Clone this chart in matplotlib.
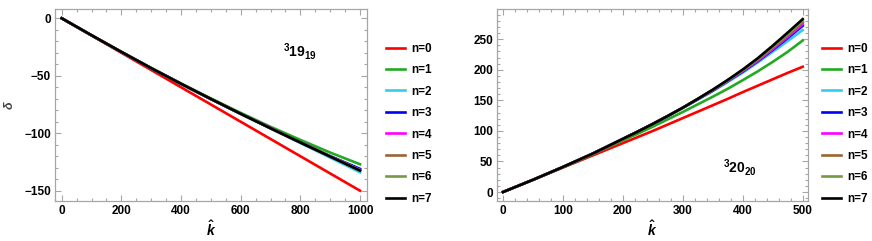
import matplotlib
matplotlib.use("Agg")
import matplotlib.pyplot as plt
from matplotlib.ticker import MultipleLocator

plt.rcParams['font.family'] = ['Liberation Sans', 'DejaVu Sans']
plt.rcParams['font.weight'] = 'bold'
plt.rcParams['mathtext.fontset'] = 'custom'
plt.rcParams['mathtext.rm'] = 'Liberation Sans:bold'
plt.rcParams['mathtext.bf'] = 'Liberation Sans:bold'
plt.rcParams['mathtext.it'] = 'Liberation Sans:bold:italic'

labels = ['n=0', 'n=1', 'n=2', 'n=3', 'n=4', 'n=5', 'n=6', 'n=7']
colors = ['#ff0000', '#22aa22', '#33ccee', '#0000ff', '#ff00ff', '#996633', '#779944', '#000000']

# left panel: 3 19_19
k_left = [0, 100, 200, 300, 400, 500, 600, 700, 800, 900, 1000]
delta_left = [
    [0, -15, -30, -45, -60, -75, -90, -105, -120, -135, -150],
    [0, -14.8, -29.2, -43.2, -56.7, -69.7, -82.3, -94.4, -105.8, -116.8, -127],
    [0, -14.8, -29.3, -43.4, -57.0, -70.3, -83.2, -95.9, -108.5, -121.2, -134],
    [0, -14.8, -29.3, -43.4, -57.0, -70.2, -83.0, -95.5, -107.8, -119.9, -131],
    [0, -14.8, -29.3, -43.4, -57.0, -70.2, -83.1, -95.6, -108.0, -120.1, -132],
    [0, -14.8, -29.3, -43.4, -57.0, -70.2, -83.1, -95.6, -108.0, -120.2, -132.2],
    [0, -14.8, -29.3, -43.4, -57.0, -70.2, -83.1, -95.7, -108.1, -120.2, -132.3],
    [0, -14.8, -29.3, -43.4, -57.0, -70.2, -83.1, -95.7, -108.1, -120.3, -132.5],
]

# right panel: 3 20_20
k_right = [0, 25, 50, 75, 100, 125, 150, 175, 200, 225, 250,
           275, 300, 325, 350, 375, 400, 425, 450, 475, 500]
delta_right = [
    [0, 10, 20, 30, 40, 50, 60, 70, 80, 90, 100,
     110.5, 121, 131.5, 142, 152.5, 163.5, 174, 184.5, 195, 205],
    [0, 10, 20, 30.2, 40.5, 51, 62, 73, 84.5, 95.5, 107,
     119, 131, 143.5, 156, 169, 183, 197.5, 213, 229.5, 248],
    [0, 10, 20, 30.5, 41, 52, 63, 75, 87, 99, 111.5,
     124.3, 137.5, 151, 165, 180, 195.5, 212, 229.5, 247, 265],
    [0, 10, 20, 30.5, 41, 52, 63, 75, 87, 99, 111.5,
     124.5, 138, 152, 166, 181.5, 197, 214, 232.5, 252, 272],
    [0, 10, 20, 30.5, 41, 52, 63, 75, 87, 99, 111.5,
     124.5, 138, 152, 166.5, 182, 198, 215, 234, 254, 275],
    [0, 10, 20, 30.5, 41, 52, 63, 75, 87, 99, 111.5,
     124.5, 138, 152.3, 167, 182.5, 199, 216.5, 236, 256.5, 278],
    [0, 10, 20, 30.5, 41, 52, 63, 75, 87, 99, 111.5,
     124.5, 138, 152.5, 167.3, 183, 199.5, 217.5, 237.5, 258.5, 280],
    [0, 10, 20, 30.5, 41, 52, 63, 75, 87, 99, 111.5,
     124.5, 138, 152.5, 167.5, 183.5, 200.5, 219, 239.5, 261, 283],
]

fig = plt.figure(figsize=(8.72, 2.41), dpi=100)
ax1 = fig.add_axes([0.0634, 0.1672, 0.3575, 0.7942])
ax2 = fig.add_axes([0.5703, 0.1672, 0.3563, 0.7942])

frame_col = '#a6a6a6'


def style(ax, xmaj, xmin, ymaj, ymin):
    for s in ax.spines.values():
        s.set_color(frame_col)
        s.set_linewidth(0.9)
    ax.xaxis.set_major_locator(MultipleLocator(xmaj))
    ax.xaxis.set_minor_locator(MultipleLocator(xmin))
    ax.yaxis.set_major_locator(MultipleLocator(ymaj))
    ax.yaxis.set_minor_locator(MultipleLocator(ymin))
    ax.tick_params(which='both', direction='in', top=True, right=True,
                   color=frame_col, labelsize=8.5, width=0.8, pad=3)
    ax.tick_params(which='major', length=4)
    ax.tick_params(which='minor', length=2)
    for t in ax.get_xticklabels() + ax.get_yticklabels():
        t.set_fontweight('bold')


def add_legend(ax, x0):
    ax.legend(loc='upper left', bbox_to_anchor=(x0, 0.85), frameon=False,
              fontsize=8.5, handlelength=1.6, handletextpad=0.6, labelspacing=0.8,
              borderaxespad=0)


for vals, c, lab in zip(delta_left, colors, labels):
    ax1.plot(k_left, vals, color=c, lw=1.9, label=lab)
ax1.set_xlim(-21.5, 1023.5)
ax1.set_ylim(-158.7, 7.8)
style(ax1, 200, 50, 50, 10)
ax1.set_xlabel(r'$\hat{k}$', fontsize=10, labelpad=2)
ax1.set_ylabel(r'$\delta$', fontsize=9, color='#444444', labelpad=6)
ax1.text(800, -29, r'$^{3}\mathbf{19}_{19}$', fontsize=10, ha='center', va='center')
add_legend(ax1, 1.045)

for vals, c, lab in zip(delta_right, colors, labels):
    ax2.plot(k_right, vals, color=c, lw=1.9, label=lab)
ax2.set_xlim(-9.5, 508.8)
ax2.set_ylim(-14.2, 299)
style(ax2, 100, 20, 50, 10)
ax2.set_xlabel(r'$\hat{k}$', fontsize=10, labelpad=2)
ax2.text(395, 40, r'$^{3}\mathbf{20}_{20}$', fontsize=10, ha='center', va='center')
add_legend(ax2, 1.029)

fig.savefig('out.png', dpi=100)
